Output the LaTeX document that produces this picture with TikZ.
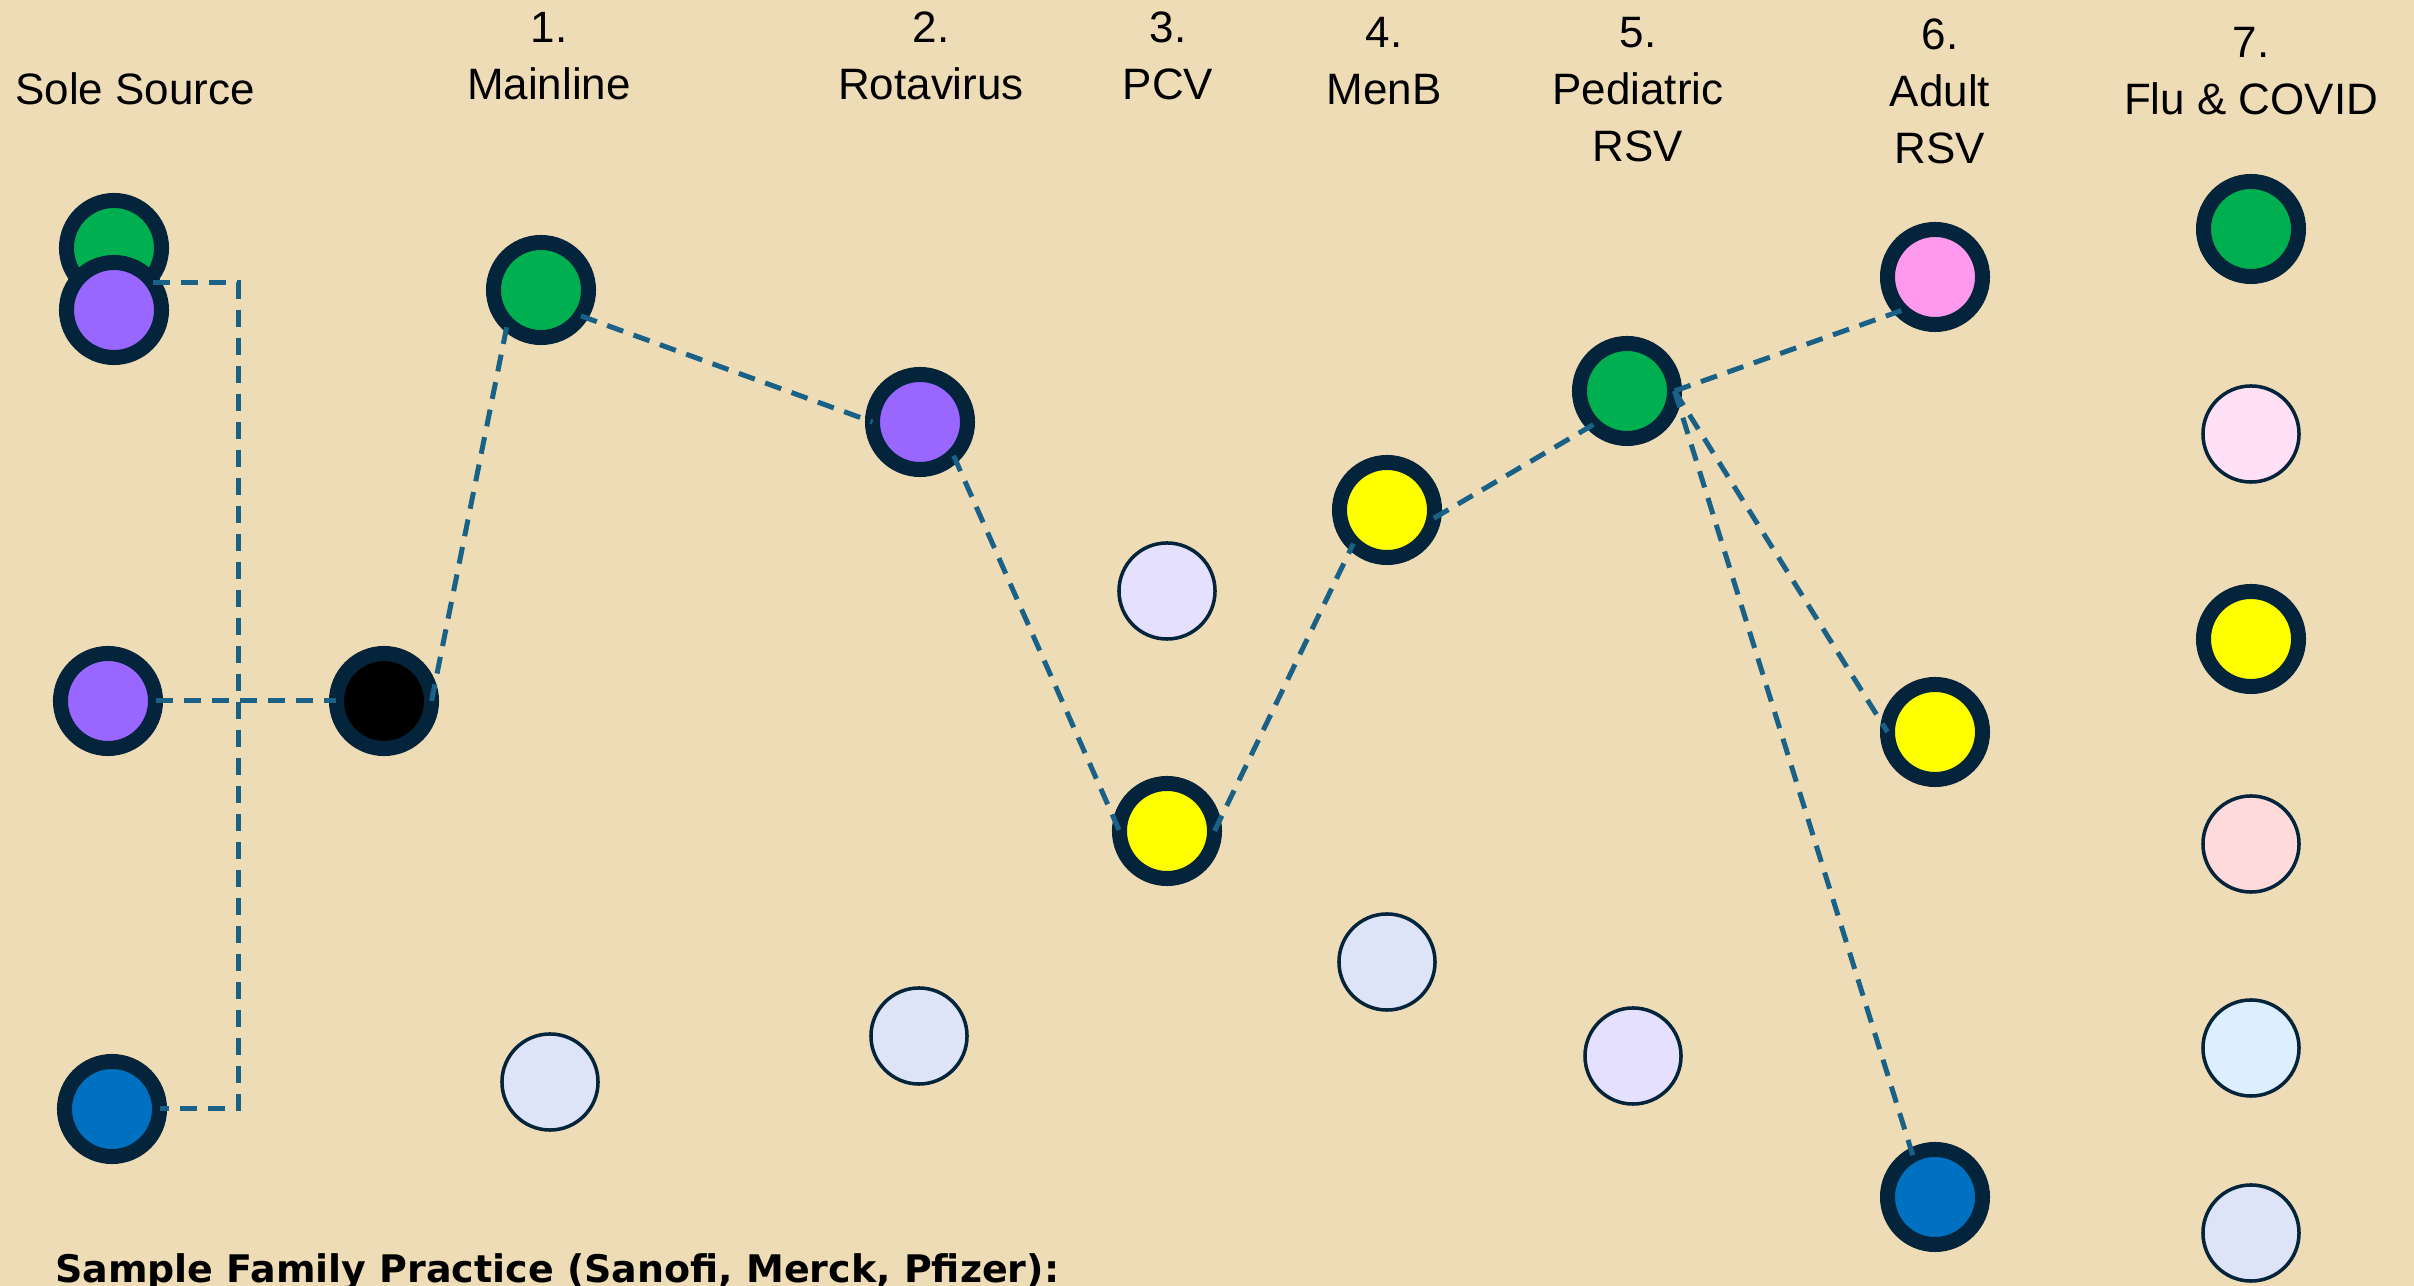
\documentclass[tikz,border=0pt]{standalone}
\usepackage{fontspec}
\setmainfont{Liberation Sans}
\newfontfamily\notefont{DejaVu Sans}
\usepackage{tikz}
\usetikzlibrary{arrows}

\definecolor{parch}{HTML}{EEDCB6}
\definecolor{rim}{HTML}{03243A}
\definecolor{linkblue}{HTML}{1A6188}
\definecolor{vgreen}{HTML}{00B050}
\definecolor{vpurple}{HTML}{9966FF}
\definecolor{vyellow}{HTML}{FFFF00}
\definecolor{vblue}{HTML}{0070C0}
\definecolor{vpink}{HTML}{FF99EE}
\definecolor{lgrey}{HTML}{DDE4F7}
\definecolor{llav}{HTML}{E6E0FF}
\definecolor{lpink}{HTML}{FFE0F6}
\definecolor{lrose}{HTML}{FFDADA}
\definecolor{lsky}{HTML}{DDEEFF}

\begin{document}
\begin{tikzpicture}[x=0.01cm,y=-0.01cm,semithick]
    \tikzstyle{head}=[font=\fontsize{12.5}{16.2}\selectfont,align=center,
                      anchor=north,inner sep=0pt]
    \tikzstyle{held}=[circle,draw=rim,line width=0.15cm,minimum size=0.95cm,
                      inner sep=0pt,outer sep=0pt]
    \tikzstyle{spare}=[circle,draw=rim,line width=1pt,minimum size=0.96cm,
                      inner sep=0pt,outer sep=0pt]
    \tikzstyle{dashlink}=[draw=linkblue,line width=0.05cm,
                      dash pattern=on 0.17cm off 0.11cm]

    \clip (0,0) rectangle (2414,1286);
    \fill[parch] (0,0) rectangle (2414,1286);

    % column heads
    \node[head] (hSole) at (135,72)  {Sole Source};
    \node[head] (h1)    at (549,11)  {1.\\Mainline};
    \node[head] (h2)    at (931,11)  {2.\\Rotavirus};
    \node[head] (h3)    at (1168,11) {3.\\PCV};
    \node[head] (h4)    at (1384,16) {4.\\MenB};
    \node[head] (h5)    at (1638,16) {5.\\Pediatric\\RSV};
    \node[head] (h6)    at (1940,18) {6.\\Adult\\RSV};
    \node[head] (h7)    at (2251,26) {7.\\Flu \& COVID};

    % sole source
    \node[held,fill=vgreen]  (ssG) at (114,248)  {};
    \node[held,fill=vpurple] (ssP) at (114,310)  {};
    \node[held,fill=vpurple] (ssM) at (108,701)  {};
    \node[held,fill=vblue]   (ssB) at (112,1109) {};

    % 1. mainline
    \node[held,fill=black]   (blk) at (384,701)  {};
    \node[held,fill=vgreen]  (mlG) at (541,290)  {};
    \node[spare,fill=lgrey]  (mlL) at (550,1082) {};

    % 2. rotavirus
    \node[held,fill=vpurple] (rvP) at (920,422)  {};
    \node[spare,fill=lgrey]  (rvL) at (919,1036) {};

    % 3. pcv
    \node[spare,fill=llav]   (pcL) at (1167,591) {};
    \node[held,fill=vyellow] (pcY) at (1167,831) {};

    % 4. menb
    \node[held,fill=vyellow] (mbY) at (1387,510) {};
    \node[spare,fill=lgrey]  (mbL) at (1387,962) {};

    % 5. pediatric rsv
    \node[held,fill=vgreen]  (prG) at (1627,391)  {};
    \node[spare,fill=llav]   (prL) at (1633,1056) {};

    % 6. adult rsv
    \node[held,fill=vpink]   (arK) at (1935,277)  {};
    \node[held,fill=vyellow] (arY) at (1935,732)  {};
    \node[held,fill=vblue]   (arB) at (1935,1197) {};

    % 7. flu & covid
    \node[held,fill=vgreen]  (fcG) at (2251,229)  {};
    \node[spare,fill=lpink]  (fcP) at (2251,434)  {};
    \node[held,fill=vyellow] (fcY) at (2251,639)  {};
    \node[spare,fill=lrose]  (fcR) at (2251,844)  {};
    \node[spare,fill=lsky]   (fcS) at (2251,1048) {};
    \node[spare,fill=lgrey]  (fcL) at (2251,1233) {};

    % links
    \coordinate (bus) at (238,0);
    \draw[dashlink] (ssP.35) -- (ssP.35 -| bus) -- (ssB.east -| bus) -- (ssB.east);
    \draw[dashlink] (ssM.east) -- (blk.west);
    \draw[dashlink] (blk.east) -- (mlG.south west);
    \draw[dashlink] (mlG.-33) -- (rvP.west);
    \draw[dashlink] (rvP.south east) -- (pcY.west);
    \draw[dashlink] (pcY.east) -- (mbY.south west);
    \draw[dashlink] (mbY.-10) -- (prG.south west);
    \draw[dashlink] (prG.east) -- (arK.south west);
    \draw[dashlink] (prG.east) -- (arY.west);
    \draw[dashlink] (prG.east) -- (arB.118);

    \node[anchor=base west,inner sep=0pt,
          font=\notefont\bfseries\fontsize{10.8}{13}\selectfont] (note)
          at (54,1283) {Sample Family Practice (Sanofi, Merck, Pfizer):};
\end{tikzpicture}
\end{document}
